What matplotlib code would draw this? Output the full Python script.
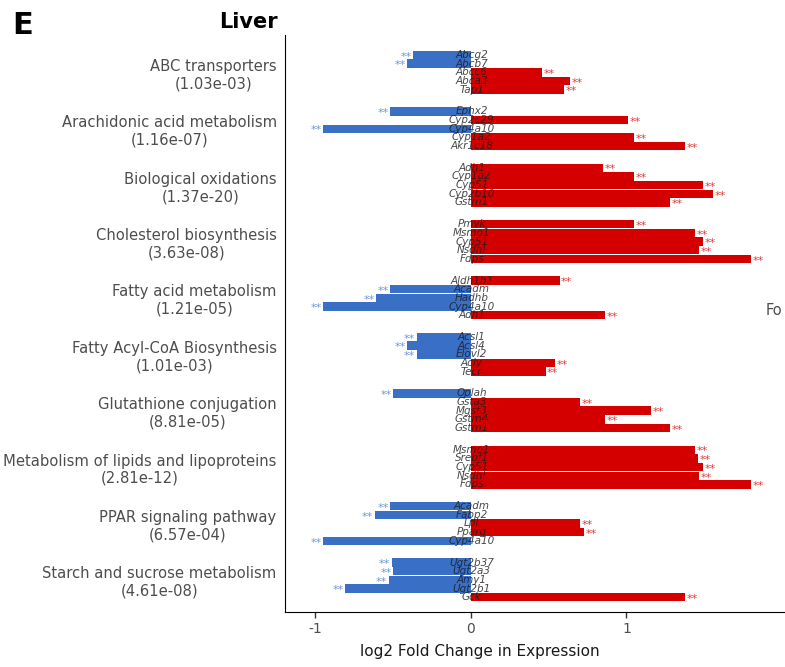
import matplotlib
matplotlib.use('Agg')
import matplotlib.pyplot as plt
import numpy as np

# pathways (y tick labels) and their genes / log2 fold changes
pathways = ['ABC transporters\n(1.03e-03)',
            'Arachidonic acid metabolism\n(1.16e-07)',
            'Biological oxidations\n(1.37e-20)',
            'Cholesterol biosynthesis\n(3.63e-08)',
            'Fatty acid metabolism\n(1.21e-05)',
            'Fatty Acyl-CoA Biosynthesis\n(1.01e-03)',
            'Glutathione conjugation\n(8.81e-05)',
            'Metabolism of lipids and lipoproteins\n(2.81e-12)',
            'PPAR signaling pathway\n(6.57e-04)',
            'Starch and sucrose metabolism\n(4.61e-08)']

genes = [['Abcg2', 'Abcb7', 'Abcc6', 'Abca3', 'Tap1'],
         ['Ephx2', 'Cyp2c29', 'Cyp4a10', 'Cyp1a2', 'Akr1c18'],
         ['Adh1', 'Cyp1a2', 'Cyp51', 'Cyp2b10', 'Gstm1'],
         ['Pmvk', 'Msmo1', 'Cyp51', 'Nsdhl', 'Fdps'],
         ['Aldh1b1', 'Acadm', 'Hadhb', 'Cyp4a10', 'Adh1'],
         ['Acsl1', 'Acsl4', 'Elovl2', 'Acly', 'Tecr'],
         ['Oplah', 'Gsta3', 'Mgst3', 'Gstm4', 'Gstm1'],
         ['Msmo1', 'Srebf1', 'Cyp51', 'Nsdhl', 'Fdps'],
         ['Acadm', 'Fabp2', 'Lpl', 'Pparg', 'Cyp4a10'],
         ['Ugt2b37', 'Ugt2a3', 'Amy1', 'Ugt2b1', 'Gck']]

logfc = [[-0.37, -0.41, 0.46, 0.64, 0.60],
         [-0.52, 1.01, -0.95, 1.05, 1.38],
         [0.85, 1.05, 1.49, 1.56, 1.28],
         [1.05, 1.44, 1.49, 1.47, 1.80],
         [0.57, -0.52, -0.61, -0.95, 0.86],
         [-0.35, -0.41, -0.35, 0.54, 0.48],
         [-0.50, 0.70, 1.16, 0.86, 1.28],
         [1.44, 1.46, 1.49, 1.47, 1.80],
         [-0.52, -0.62, 0.70, 0.73, -0.95],
         [-0.51, -0.50, -0.53, -0.81, 1.38]]

blue = '#3A6FC6'
red = '#D40000'
grey = '#4D4D4D'

fig = plt.figure(figsize=(7.85, 6.67), dpi=100)
ax = fig.add_axes([285/785, 1-612/667, 1-285/785, (612-35)/667])

gstep = 6.5
centers = []
for g in range(len(pathways)):
    c = g*gstep + 2
    centers.append(c)
    for j in range(5):
        y = g*gstep + j
        v = logfc[g][j]
        col = blue if v < 0 else red
        ax.barh(y, v, height=0.97, color=col, zorder=2)
        # significance stars
        if v < 0:
            ax.text(v - 0.01, y + 0.2, '**', color='#6D95DA', fontsize=8,
                    ha='right', va='center', zorder=3)
        else:
            ax.text(v + 0.01, y + 0.2, '**', color='#E23A3A', fontsize=8,
                    ha='left', va='center', zorder=3)
        ax.text(0.005, y, genes[g][j], style='italic', fontsize=7.5, color='#1a1a1a',
                alpha=0.8, ha='center', va='center', zorder=4)

ax.set_yticks(centers)
ax.set_yticklabels(pathways, fontsize=10.6, color=grey, multialignment='center')
ax.tick_params(axis='y', length=0, pad=6)
ax.set_ylim(64.2, -2.3)
ax.set_xlim(-1.196, 2.02)
ax.set_xticks([-1, 0, 1])
ax.set_xticklabels(['-1', '0', '1'], fontsize=10, color=grey)
ax.tick_params(axis='x', length=4, color='#333333', width=1)
ax.spines['top'].set_visible(False)
ax.spines['right'].set_visible(False)
ax.set_xlabel('log2 Fold Change in Expression', fontsize=11, color='#1a1a1a')
ax.xaxis.set_label_coords((480-285)/500, -0.055)

fig.text(278/785, 1-22/667, 'Liver', fontsize=15, fontweight='bold', ha='right', va='center')
fig.text(12/785, 1-25/667, 'E', fontsize=22, fontweight='bold', ha='left', va='center')
fig.text(766/785, 1-310/667, 'Fo', fontsize=10.5, color=grey, ha='left', va='center')

fig.savefig('out.png', dpi=100)
